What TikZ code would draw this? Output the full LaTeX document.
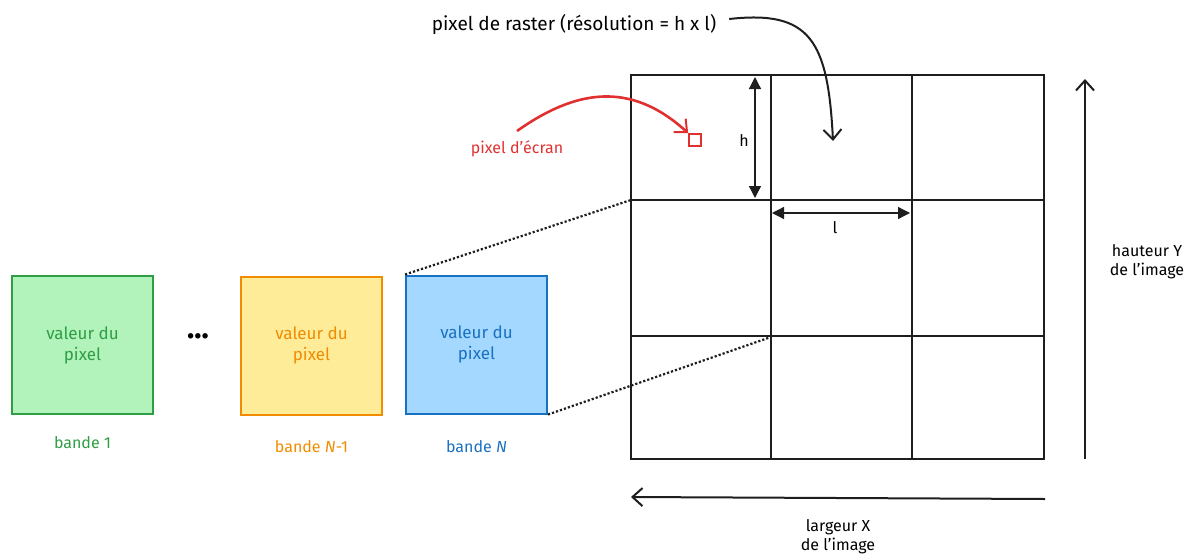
\documentclass[tikz,border=0pt]{standalone}
\usepackage{fontspec}
\setmainfont{Fira Sans}
\usetikzlibrary{arrows.meta}
\usetikzlibrary{positioning}

\definecolor{greenfill}{HTML}{B2F2BB}
\definecolor{greendraw}{HTML}{2F9E44}
\definecolor{orangefill}{HTML}{FFEC99}
\definecolor{orangedraw}{HTML}{F08C00}
\definecolor{bluefill}{HTML}{A5D8FF}
\definecolor{bluedraw}{HTML}{1971C2}
\definecolor{redline}{HTML}{E03131}
\definecolor{inkline}{HTML}{1E1E1E}

\begin{document}
\begin{tikzpicture}[x=1pt,y=-1pt,line width=2pt,
  font=\fontsize{16}{19}\selectfont,
  band node/.style={draw,minimum width=141pt,minimum height=138pt,align=center,
    inner sep=0pt,font=\fontsize{17}{21}\selectfont},
  label node/.style={align=center,inner sep=0pt},
  open arrow/.style={-{Straight Barb[length=10pt,width=18pt,line width=2pt]}},
  dim arrow/.style={{Triangle[length=12pt,width=12pt]}-{Triangle[length=12pt,width=12pt]},line width=1.3pt}]

  \useasboundingbox (0,0) rectangle (1187,558);

  % bands
  \node[band node,fill=greenfill,draw=greendraw,text=greendraw] (b1) at (82.5,345) {valeur du\\pixel};
  \node[band node,fill=orangefill,draw=orangedraw,text=orangedraw] (bn1) at (311.5,345.5) {valeur du\\pixel};
  \node[band node,fill=bluefill,draw=bluedraw,text=bluedraw] (bn) at (476.5,344.5) {valeur du\\pixel};
  \node[label node,text=greendraw] (b1l) [below=20pt of b1] {bande 1};
  \node[label node,text=orangedraw] (bn1l) [below=24pt of bn1] {bande \textit{N}-1};
  \node[label node,text=bluedraw] (bnl) [below=25pt of bn] {bande \textit{N}};
  \node[label node,font=\bfseries\fontsize{30}{30}\selectfont] (dots) at (198,336) {...};

  % raster grid
  \coordinate (g00) at (631,75);
  \coordinate (g12) at (771,337);
  \coordinate (g33) at (1044,459);
  \draw[inkline] (g00) rectangle (g33);
  \foreach \x in {771,912} \draw[inkline] (\x,75) -- (\x,459);
  \foreach \y in {200,336} \draw[inkline] (631,\y) -- (1044,\y);

  % zoom lines
  \draw[inkline,dotted,line width=2.2pt] (bn.north west) -- (631,200);
  \draw[inkline,dotted,line width=2.2pt] (bn.south east) -- (g12);

  % dimensions
  \coordinate (ht) at (755,77);
  \coordinate (hb) at (755,198);
  \draw[inkline,dim arrow] (ht) -- (hb);
  \node[label node] (hl) at (744,141) {h};
  \coordinate (lw) at (772,213);
  \coordinate (le) at (910,213);
  \draw[inkline,dim arrow] (lw) -- (le);
  \node[label node] (ll) at (835,228) {l};

  % screen pixel
  \node[draw=redline,minimum size=12pt,inner sep=0pt,line width=1.8pt] (px) at (695,140) {};
  \node[label node,text=redline] (pxl) at (517,149) {pixel d'écran};
  \coordinate (pxs) at (517,131);
  \draw[redline,open arrow,line width=2.6pt] (pxs) .. controls (575,90) and (630,80) .. (px.north west);

  % raster pixel
  \node[label node,font=\fontsize{19}{22}\selectfont] (rl) at (574,24) {pixel de raster (résolution = h x l)};
  \draw[inkline,open arrow] (rl.east) ++(12,-5) .. controls (810,10) and (828,40) .. (833,141);

  % image axes
  \coordinate (yb) at (1085,459);
  \coordinate (yt) at (1085,79);
  \draw[inkline,open arrow] (yb) -- (yt);
  \node[label node] (yl) at (1147,262) {hauteur Y\\de l'image};
  \coordinate (xr) at (1045,499);
  \coordinate (xl) at (631,497);
  \draw[inkline,open arrow] (xr) -- (xl);
  \node[label node] (xll) at (838,537) {largeur X\\de l'image};
\end{tikzpicture}
\end{document}
